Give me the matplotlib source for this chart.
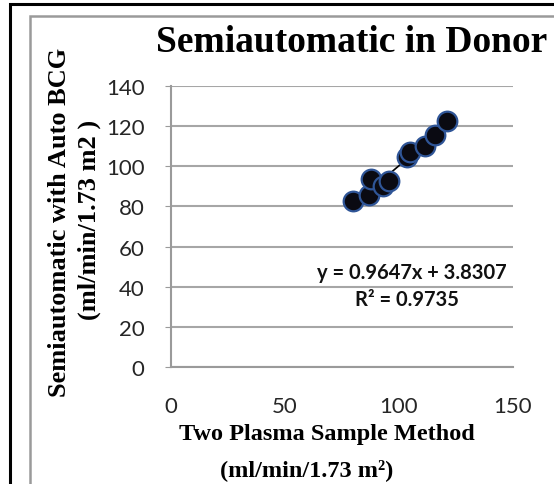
import matplotlib
matplotlib.use("Agg")
import matplotlib.pyplot as plt
from matplotlib.patches import Rectangle
import numpy as np

# two plasma sample GFR vs semiautomatic (auto BCG) GFR, donors
two_plasma = [80.0, 87.0, 87.6, 93.1, 95.7, 103.6, 104.8, 111.4, 115.8, 121.2]
semi_auto = [82.6, 85.9, 93.7, 90.3, 92.8, 104.5, 107.0, 110.3, 115.7, 122.7]
slope, intercept, r2 = 0.9647, 3.8307, 0.9735
x_ticks = [0, 50, 100, 150]
y_ticks = [0, 20, 40, 60, 80, 100, 120, 140]

W, H = 554, 485
fig = plt.figure(figsize=(W / 100, H / 100), dpi=100)

def fx(px):
    return px / W

def fy(py):
    return 1 - py / H

# outer black frame and grey chart border
fig.patches.append(Rectangle((fx(10), fy(490)), fx(560) - fx(10), fy(5) - fy(490),
                             transform=fig.transFigure, fill=False,
                             edgecolor='black', linewidth=2.2))
fig.patches.append(Rectangle((fx(30), fy(490)), fx(560) - fx(30), fy(17) - fy(490),
                             transform=fig.transFigure, fill=False,
                             edgecolor='#9a9a9a', linewidth=1.8))

ax = fig.add_axes([fx(171), fy(368), fx(513) - fx(171), fy(87) - fy(368)])
ax.set_xlim(0, 150)
ax.set_ylim(0, 140)
ax.set_xticks(x_ticks)
ax.set_yticks(y_ticks)
ax.yaxis.grid(True, color='#a6a6a6', linewidth=1.5)
ax.set_axisbelow(True)
for side in ['top', 'right']:
    ax.spines[side].set_visible(False)
for side in ['left', 'bottom']:
    ax.spines[side].set_color('#9a9a9a')
    ax.spines[side].set_linewidth(1.5)
ax.tick_params(axis='y', length=4, color='#9a9a9a', pad=15, labelsize=16, labelcolor='#262626')
ax.tick_params(axis='x', length=0, pad=21, labelsize=16, labelcolor='#262626')
for lab in ax.get_xticklabels() + ax.get_yticklabels():
    lab.set_fontfamily('Lato')

# linear trend line over the data range
xs = np.array([min(two_plasma), max(two_plasma)])
ax.plot(xs, slope * xs + intercept, color='black', linewidth=1.2, zorder=2)
ax.scatter(two_plasma, semi_auto, s=200, color='#0a0a12', edgecolor='#2f5597',
           linewidth=1.6, zorder=3)

fig.text(fx(412), fy(273), 'y = %.4fx + %.4f' % (slope, intercept), ha='center', va='center',
         fontsize=14.5, fontweight='bold', family='Lato', color='#111111')
fig.text(fx(407), fy(300), 'R² = %.4f' % r2, ha='center', va='center',
         fontsize=14.5, fontweight='bold', family='Lato', color='#111111')

fig.text(fx(352), fy(42), 'Semiautomatic in Donor', ha='center', va='center',
         fontsize=27, fontweight='bold', family='Liberation Serif')
fig.text(fx(60), fy(222), 'Semiautomatic with Auto BCG', ha='center', va='center',
         rotation=90, fontsize=19, fontweight='bold', family='Liberation Serif')
fig.text(fx(89), fy(220), '(ml/min/1.73 m2 )', ha='center', va='center',
         rotation=90, fontsize=19, fontweight='bold', family='Liberation Serif')
fig.text(fx(327), fy(435), 'Two Plasma Sample Method', ha='center', va='center',
         fontsize=17.5, fontweight='bold', family='Liberation Serif')
fig.text(fx(307), fy(470), '(ml/min/1.73 m²)', ha='center', va='center',
         fontsize=17.5, fontweight='bold', family='Liberation Serif')

fig.savefig('out.png', dpi=100)
